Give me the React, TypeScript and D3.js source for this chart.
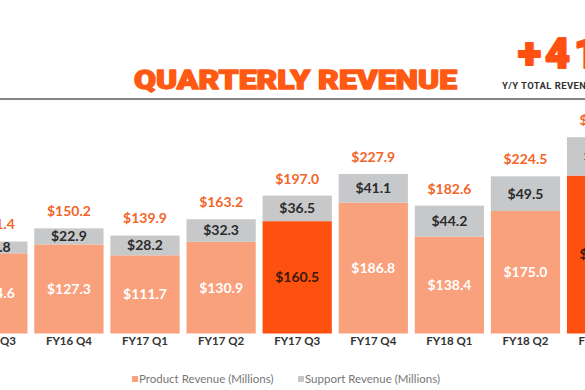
import * as d3 from 'd3'
import { useMemo } from 'react'

const quarters = ['FY16 Q3', 'FY16 Q4', 'FY17 Q1', 'FY17 Q2', 'FY17 Q3', 'FY17 Q4', 'FY18 Q1', 'FY18 Q2', 'FY18 Q3']
const productRevenue = [114.6, 127.3, 111.7, 130.9, 160.5, 186.8, 138.4, 175.0, 225.6]
const supportRevenue = [16.8, 22.9, 28.2, 32.3, 36.5, 41.1, 44.2, 49.5, 54.9]
const totalRevenue = [131.4, 150.2, 139.9, 163.2, 197.0, 227.9, 182.6, 224.5, 280.5]
const highlighted = ['FY17 Q3', 'FY18 Q3']
const legendLabels = ['Product Revenue (Millions)', 'Support Revenue (Millions)']

const WIDTH = 585
const HEIGHT = 390

const PRODUCT = '#F9A07C'
const PRODUCT_HI = '#FE500F'
const SUPPORT = '#C7C8CA'
const ORANGE = '#F26529'
const FONT = 'Lato, "Open Sans", sans-serif'
const HEAVY = 'Roboto, "DejaVu Sans", sans-serif'

const fmt = (v: number) => `$${v.toFixed(1)}`

export default function App() {
    // bars run off both edges of the slide, as in the screenshot
    const xScale = useMemo(() => d3.scaleBand<string>()
        .domain(quarters)
        .range([-41.8, 636.2])
        .paddingInner(0.09)
        .paddingOuter(0), [])

    const yScale = useMemo(() => d3.scaleLinear()
        .domain([0, 300])
        .range([333.5, 123.5]), [])

    const bw = xScale.bandwidth()

    const bars = quarters.map((q, i) => {
        const x = xScale(q) as number
        const hi = highlighted.includes(q)
        const yProd = yScale(productRevenue[i])
        const yTop = yScale(productRevenue[i] + supportRevenue[i])
        const cx = x + bw / 2
        return (
            <g key={q}>
                <rect x={x} y={yProd} width={bw} height={yScale(0) - yProd} fill={hi ? PRODUCT_HI : PRODUCT} />
                <rect x={x} y={yTop} width={bw} height={yProd - yTop} fill={SUPPORT} />
                <text x={cx} y={yTop - 17} dy="0.35em" textAnchor="middle" fill={ORANGE}
                    fontSize={14} fontWeight={700}>{fmt(totalRevenue[i])}</text>
                <text x={cx} y={(yTop + yProd) / 2} dy="0.35em" textAnchor="middle" fill="#2b2b2b"
                    fontSize={14} fontWeight={700}>{fmt(supportRevenue[i])}</text>
                <text x={cx} y={(yProd + yScale(0)) / 2} dy="0.35em" textAnchor="middle"
                    fill={hi ? '#3a1a0c' : '#ffffff'} fontSize={14} fontWeight={700}>{fmt(productRevenue[i])}</text>
                <text x={cx} y={341} dy="0.35em" textAnchor="middle" fill="#333"
                    fontSize={11.5} fontWeight={700}>{q}</text>
            </g>
        )
    })

    return (
        <svg width={WIDTH} height={HEIGHT} style={{ position: 'absolute', left: 0, top: 0, background: '#fff' }}
            fontFamily={FONT}>
            {/* heavy display type: thicken with a matching stroke */}
            <text x={134} y={88.5} fill="#FF5A14" stroke="#FF5A14" strokeWidth={1.4} strokeLinejoin="round"
                fontSize={26} fontWeight={900} fontFamily={HEAVY}
                textLength={323} lengthAdjust="spacingAndGlyphs">QUARTERLY REVENUE</text>
            <text x={518} y={68} fill="#FF5212" stroke="#FF5212" strokeWidth={2} strokeLinejoin="round"
                fontSize={43} fontWeight={900} fontFamily={HEAVY} letterSpacing={4}>+41%</text>
            <text x={502} y={89} fill="#333" fontSize={9.5} fontWeight={700} fontFamily={HEAVY}
                letterSpacing={0.4}>Y/Y TOTAL REVENUE GROWTH</text>
            <line x1={0} x2={WIDTH} y1={99} y2={99} stroke="#5a5a5a" strokeWidth={1.5} />

            {bars}

            <g fontSize={11.5} fill="#777">
                <rect x={132} y={376} width={6} height={6} fill={PRODUCT} />
                <text x={139} y={379} dy="0.35em">{legendLabels[0]}</text>
                <rect x={298} y={376} width={6} height={6} fill={SUPPORT} />
                <text x={305} y={379} dy="0.35em">{legendLabels[1]}</text>
            </g>
        </svg>
    )
}
